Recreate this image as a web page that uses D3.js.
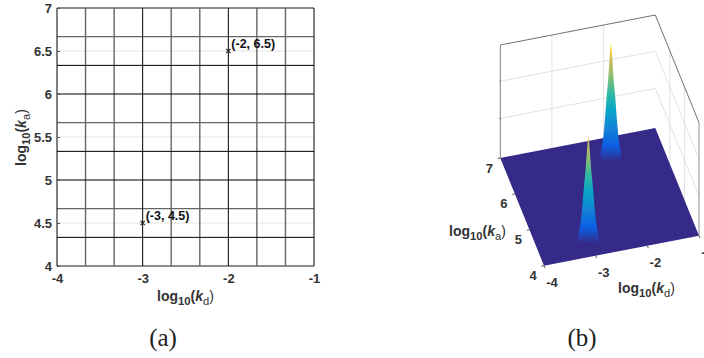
<!DOCTYPE html>
<html>
<head>
<meta charset="utf-8">
<script src="https://cdn.jsdelivr.net/npm/d3@7"></script>
<style>
  html, body { margin: 0; padding: 0; background: #fff; overflow: hidden; }
  text { font-family: "Liberation Sans", Arial, sans-serif; font-weight: bold; fill: #333; }
  .caption { font-family: "Liberation Serif", serif; font-weight: normal; font-size: 25px; fill: #222; }
</style>
</head>
<body>
<div class="canvas"></div>
<script>
// panel (a) data
const kdTicks = [-4, -3, -2, -1];
const kaTicks = [4, 4.5, 5, 5.5, 6, 6.5, 7];
const meshKdDark = [-3, -2, -1];
const meshKdGray = [-3.667, -3.333, -2.667, -2.333, -1.667, -1.333];
const meshKaDark = [5, 5.333, 6, 6.333, 4.333];
const meshKaGray = [4, 4.667, 5.667, 6.667, 7];
const kaLightGrid = [4.5, 5.5, 6.5];
const markKd = [-2, -3];
const markKa = [6.5, 4.5];
const markLabels = ['(-2, 6.5)', '(-3, 4.5)'];

// panel (b) data
const kdTicks3d = [-4, -3, -2, -1];
const kaTicks3d = [4, 5, 6, 7];
const wallKd = [-3, -2];
const wallKa = [5, 6];
const wallZ = [0.35, 0.68];
const peakKd = [-2, -3];
const peakKa = [6.5, 4.5];
const peakZ = [1, 0.9];
// peak shape: share of peak height, radius in log10 units
const profileLevel = [0, 0.05, 0.1, 0.17, 0.32, 0.5, 0.67, 0.82, 0.94, 1];
const profileRadius = [0.2, 0.188, 0.165, 0.145, 0.116, 0.087, 0.054, 0.033, 0.0135, 0];
const parulaPos = [0, 0.14, 0.28, 0.43, 0.57, 0.71, 0.86, 0.93, 1];
const parulaCol = ['#352a87', '#0a60e4', '#1481d6', '#06a4ca', '#2eb7a4', '#87bf77', '#d1bb59', '#fec832', '#f9fb0e'];

const svg = d3.select('.canvas')
  .append('svg')
    .attr('width', 704)
    .attr('height', 358)
    .style('display', 'block');

// writes log10(k_x) as real text with subscripts
function logLabel(sel, sub) {
  sel.append('tspan').text('log');
  sel.append('tspan').attr('dy', 4).attr('font-size', '0.8em').text('10');
  sel.append('tspan').attr('dy', -4).text('(');
  sel.append('tspan').attr('font-style', 'italic').text('k');
  sel.append('tspan').attr('dy', 4).attr('font-size', '0.8em').style('font-weight', 'normal').text(sub);
  sel.append('tspan').attr('dy', -4).style('font-weight', 'normal').text(')');
}

// ---- panel (a)
const margin = {top: 8, left: 57};
const graphWidth = 257;
const graphHeight = 258;

const graph = svg.append('g')
  .attr('transform', `translate(${margin.left},${margin.top})`);

const x = d3.scaleLinear().domain([-4, -1]).range([0, graphWidth]);
const y = d3.scaleLinear().domain([4, 7]).range([graphHeight, 0]);

graph.selectAll('.light')
  .data(kaLightGrid)
  .enter().append('line')
    .attr('x1', 0).attr('x2', graphWidth)
    .attr('y1', d => y(d)).attr('y2', d => y(d))
    .attr('stroke', '#e4e4e4');

function meshV(data, col, w) {
  graph.selectAll(null).data(data).enter().append('line')
    .attr('x1', d => x(d)).attr('x2', d => x(d))
    .attr('y1', 0).attr('y2', graphHeight)
    .attr('stroke', col).attr('stroke-width', w);
}
function meshH(data, col, w) {
  graph.selectAll(null).data(data).enter().append('line')
    .attr('x1', 0).attr('x2', graphWidth)
    .attr('y1', d => y(d)).attr('y2', d => y(d))
    .attr('stroke', col).attr('stroke-width', w);
}
meshV(meshKdGray, '#666', 1.4);
meshH(meshKaGray, '#666', 1.4);
meshV(meshKdDark, '#000', 1);
meshH(meshKaDark, '#000', 1);
graph.append('line').attr('x1', 0).attr('x2', 0).attr('y1', 0).attr('y2', graphHeight).attr('stroke', '#000');

const xAxis = d3.axisBottom(x).tickValues(kdTicks).tickSize(0).tickPadding(8).tickFormat(d => String(d));
const yAxis = d3.axisLeft(y).tickValues(kaTicks).tickSizeInner(-3).tickSizeOuter(0).tickPadding(5)
  .tickFormat(d => String(d));

const xAxisGroup = graph.append('g').attr('transform', `translate(0,${graphHeight})`).call(xAxis);
const yAxisGroup = graph.append('g').call(yAxis);
xAxisGroup.select('.domain').remove();
yAxisGroup.select('.domain').remove();
graph.selectAll('.tick text').style('font-size', '13px').attr('font-family', null);
yAxisGroup.selectAll('.tick line').attr('stroke', '#555');

graph.selectAll('.mark')
  .data(markKd)
  .enter().append('path')
    .attr('d', d3.symbol().type(d3.symbolTimes).size(14))
    .attr('transform', (d, i) => `translate(${x(d)},${y(markKa[i])})`)
    .attr('stroke', '#222')
    .attr('stroke-width', 1.2);

graph.selectAll('.mark-label')
  .data(markKd)
  .enter().append('text')
    .attr('x', d => x(d) + 3)
    .attr('y', (d, i) => y(markKa[i]) - 3)
    .style('font-size', '12.5px')
    .style('fill', '#111')
    .text((d, i) => markLabels[i]);

svg.append('text').attr('x', 157).attr('y', 301).style('font-size', '14px').call(logLabel, 'd');
svg.append('text').attr('transform', 'translate(26,166) rotate(-90)').style('font-size', '14px').call(logLabel, 'a');
svg.append('text').attr('class', 'caption').attr('x', 163).attr('y', 346).attr('text-anchor', 'middle').text('(a)');

// ---- panel (b): fixed view of the box, same look as the 3d axes
const u = d3.scaleLinear().domain([-4, -1]).range([0, 1]);
const v = d3.scaleLinear().domain([7, 4]).range([0, 1]);
const h = d3.scaleLinear().domain([0, 1]).range([0, 113]);

function project(kd, ka, z) {
  return [
    500.3 + 155 * u(kd) + 43.7 * v(ka),
    158 - 30 * u(kd) + 107.7 * v(ka) - h(z)
  ];
}

const box = svg.append('g');
const pathLine = d3.line();

function seg(a, b, col) {
  box.append('path').attr('d', pathLine([project(...a), project(...b)]))
    .attr('fill', 'none').attr('stroke', col).attr('stroke-width', 1);
}

// wall grid
wallKd.forEach(d => seg([d, 7, 0], [d, 7, 1], '#e2e2e2'));
wallKa.forEach(d => seg([-1, d, 0], [-1, d, 1], '#e2e2e2'));
wallZ.forEach(z => {
  seg([-4, 7, z], [-1, 7, z], '#e2e2e2');
  seg([-1, 7, z], [-1, 4, z], '#e2e2e2');
  seg([-4, 7, z], [-4.025, 7, z], '#777');
});

// box outline
seg([-4, 7, 0], [-4, 7, 1], '#808080');
seg([-4, 7, 1], [-1, 7, 1], '#707070');
seg([-1, 7, 1], [-1, 4, 1], '#707070');
seg([-1, 4, 0], [-1, 4, 1], '#909090');

// floor of the surface
box.append('path')
  .attr('d', pathLine([project(-4, 7, 0), project(-1, 7, 0), project(-1, 4, 0), project(-4, 4, 0)]) + 'Z')
  .attr('fill', parulaCol[0]);

// axis ticks along the floor edges
kdTicks3d.forEach(d => seg([d, 4, 0], [d, 3.93, 0], '#555'));
kaTicks3d.forEach(d => seg([-4, d, 0], [-4.05, d, 0], '#555'));

const defs = svg.append('defs');
defs.append('filter').attr('id', 'soft')
  .attr('x', '-30%').attr('width', '160%')
  .append('feGaussianBlur').attr('stdDeviation', 0.35);

const peaks = svg.append('g').attr('filter', 'url(#soft)');
const peakArea = d3.area().x0(d => d.x0).x1(d => d.x1).y(d => d.y);
const baseCircle = d3.range(0, 361, 15).map(a => a * Math.PI / 180);

peakKd.forEach((kd, i) => {
  const ka = peakKa[i];
  const top = peakZ[i];
  // colour runs to navy a little below the floor point so the foot fades out
  const grad = defs.append('linearGradient')
    .attr('id', 'peak' + i)
    .attr('gradientUnits', 'userSpaceOnUse')
    .attr('x1', 0).attr('x2', 0)
    .attr('y1', project(kd, ka, 0)[1] + 6)
    .attr('y2', project(kd, ka, 1)[1]);
  parulaPos.forEach((p, k) => {
    grad.append('stop').attr('offset', p).attr('stop-color', parulaCol[k]);
  });

  const rows = profileLevel.map((lv, k) => {
    const [px, py] = project(kd, ka, lv * top);
    const halfWidth = 51.7 * profileRadius[k];
    return {x0: px - halfWidth, x1: px + halfWidth, y: py};
  });
  const ring = baseCircle.map(a => project(kd + 0.2 * Math.cos(a), ka + 0.2 * Math.sin(a), 0));

  peaks.append('path').attr('d', pathLine(ring) + 'Z').attr('fill', `url(#peak${i})`);
  peaks.append('path').attr('d', peakArea(rows)).attr('fill', `url(#peak${i})`);
});

// panel (b) text
const tick3d = (s, px, py) => svg.append('text')
  .attr('x', px).attr('y', py).attr('text-anchor', 'middle')
  .style('font-size', '13px').text(s);

kaTicks3d.forEach(d => {
  const p = project(-4, d, 0);
  tick3d(d, p[0] - 11, p[1] + 14.5);
});
kdTicks3d.forEach(d => {
  const p = project(d, 4, 0);
  tick3d(d, p[0] + 8, p[1] + 21);
});

svg.append('text').attr('x', 449).attr('y', 236).style('font-size', '14px').call(logLabel, 'a');
svg.append('text').attr('x', 618).attr('y', 293).style('font-size', '14px').call(logLabel, 'd');
svg.append('text').attr('class', 'caption').attr('x', 582).attr('y', 346).attr('text-anchor', 'middle').text('(b)');
</script>
</body>
</html>
